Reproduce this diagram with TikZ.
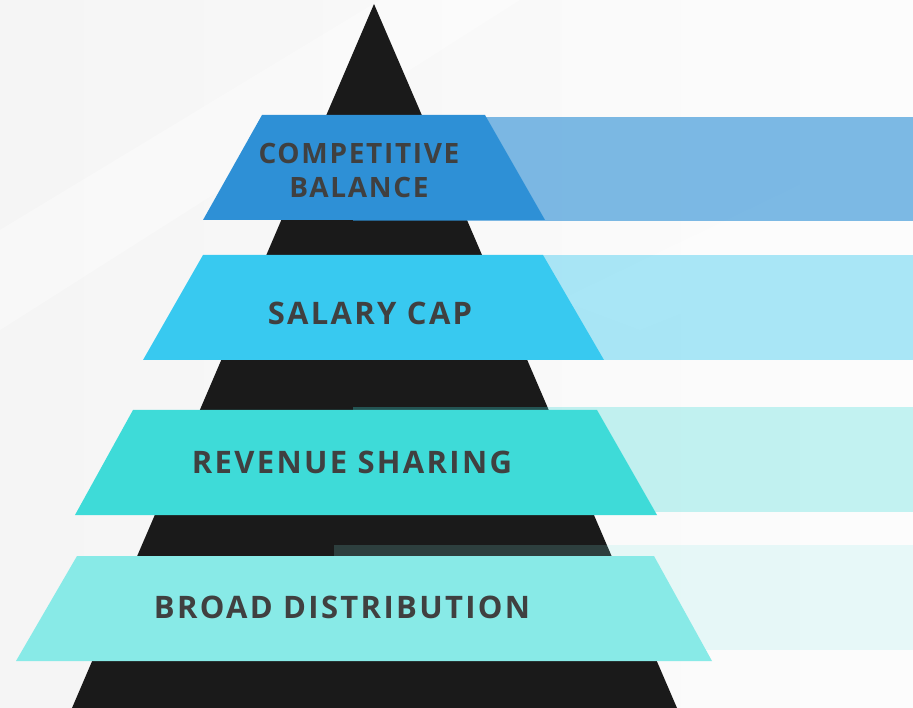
\documentclass[tikz,border=0pt]{standalone}
\usepackage{fontspec}
\setmainfont{Open Sans}
\newfontfamily\tagfont[LetterSpace=7.5]{Open Sans}
\newfontfamily\toptagfont[LetterSpace=6]{Open Sans}

\definecolor{apex}{HTML}{1A1A1A}
\definecolor{inktext}{HTML}{404040}
\definecolor{tierA}{HTML}{2E90D6}
\definecolor{tierB}{HTML}{38C9F0}
\definecolor{tierC}{HTML}{3EDBD8}
\definecolor{tierD}{HTML}{88EAE7}

\tikzset{
  tier/.style={draw=none},
  shelf/.style={draw=none},
  tag/.style={font=\tagfont\bfseries\fontsize{31}{35}\selectfont, text=inktext, inner sep=0pt, align=center}
}

\begin{document}
\begin{tikzpicture}[x=1pt,y=-1pt]
\useasboundingbox (0,0) rectangle (913,708);

% soft backdrop
\shade[left color=black!4, right color=black!1] (0,0) rectangle (913,708);
\fill[white, opacity=0.35] (0,230) -- (380,0) -- (520,0) -- (0,330) -- cycle;
\fill[white, opacity=0.3] (560,300) -- (913,130) -- (913,220) -- (640,330) -- cycle;

% the black pyramid
\fill[apex] (374,4) -- (72,708) -- (677,708) -- cycle;

% shelves behind each tier
\fill[shelf, tierA, fill opacity=0.62] (353,117) rectangle (913,221);
\fill[shelf, tierB, fill opacity=0.42] (353,255) rectangle (913,360);
\fill[shelf, tierC, fill opacity=0.30] (353,407) rectangle (913,512);
\fill[shelf, tierD, fill opacity=0.18] (334,545) rectangle (913,650);

% tiers
\fill[tier, tierA] (262,115) -- (485,115) -- (545,220) -- (203,220) -- cycle;
\fill[tier, tierB] (203,255) -- (543,255) -- (604,360) -- (143,360) -- cycle;
\fill[tier, tierC] (133,410) -- (597,410) -- (657,515) -- (75,515) -- cycle;
\fill[tier, tierD] (77,556) -- (654,556) -- (712,661) -- (16,661) -- cycle;

% labels
\node[tag, font=\toptagfont\bfseries\fontsize{28}{34}\selectfont] (balance) at (359,170) {COMPETITIVE\\BALANCE};
\node[tag] (salary) at (370,313) {SALARY CAP};
\node[tag] (revenue) at (352,462) {REVENUE SHARING};
\node[tag] (broad) at (342,607) {BROAD DISTRIBUTION};

\end{tikzpicture}
\end{document}
